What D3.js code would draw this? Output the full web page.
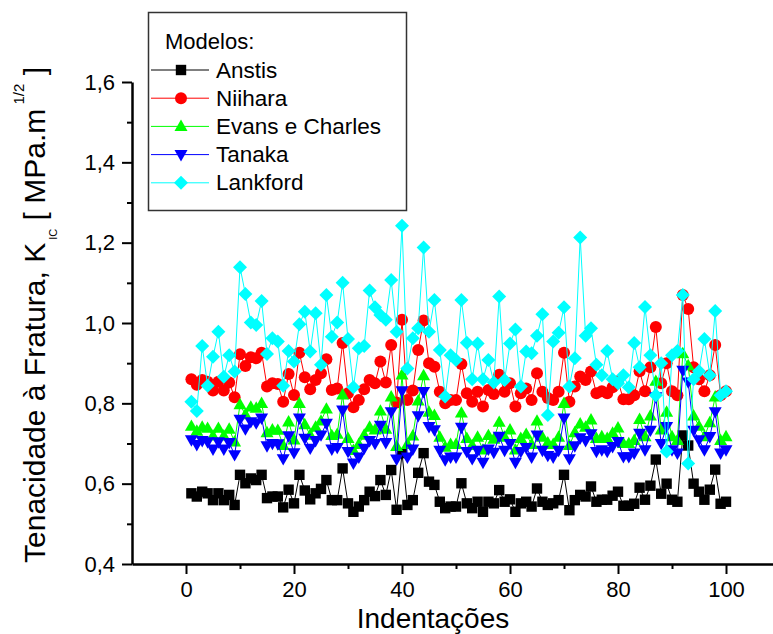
<!DOCTYPE html>
<html>
<head>
<meta charset="utf-8">
<script src="https://cdn.jsdelivr.net/npm/d3@7"></script>
<style>
  body { margin: 0; background: #fff; }
  svg { display: block; font-family: Arial, "Liberation Sans", sans-serif; }
</style>
</head>
<body>
<div id="chart"></div>
<script>
const width = 773;
const height = 634;

// indentation number (x) for every series
const indentacoes = d3.range(1, 101);

const anstis = [
  0.576, 0.568, 0.580, 0.576, 0.559, 0.576, 0.559, 0.572, 0.547, 0.622,
  0.601, 0.613, 0.609, 0.622, 0.564, 0.568, 0.568, 0.541, 0.585, 0.551,
  0.622, 0.583, 0.561, 0.576, 0.587, 0.609, 0.559, 0.559, 0.638, 0.551,
  0.530, 0.543, 0.559, 0.580, 0.569, 0.609, 0.572, 0.634, 0.535, 0.676,
  0.547, 0.559, 0.627, 0.676, 0.605, 0.597, 0.555, 0.539, 0.543, 0.543,
  0.601, 0.551, 0.539, 0.555, 0.530, 0.555, 0.551, 0.584, 0.555, 0.561,
  0.530, 0.551, 0.555, 0.543, 0.588, 0.555, 0.547, 0.551, 0.559, 0.622,
  0.534, 0.559, 0.572, 0.568, 0.593, 0.555, 0.560, 0.560, 0.570, 0.580,
  0.545, 0.545, 0.550, 0.590, 0.560, 0.595, 0.660, 0.575, 0.600, 0.560,
  0.555, 0.720, 0.695, 0.600, 0.580, 0.560, 0.585, 0.635, 0.550, 0.555
];

const niihara = [
  0.860, 0.846, 0.858, 0.854, 0.832, 0.854, 0.832, 0.852, 0.815, 0.922,
  0.893, 0.915, 0.912, 0.926, 0.842, 0.850, 0.848, 0.804, 0.873, 0.821,
  0.926, 0.865, 0.835, 0.858, 0.875, 0.910, 0.833, 0.837, 0.950, 0.825,
  0.790, 0.808, 0.835, 0.858, 0.850, 0.904, 0.852, 0.945, 0.802, 1.008,
  0.808, 0.832, 0.933, 1.006, 0.900, 0.891, 0.829, 0.800, 0.808, 0.808,
  0.898, 0.825, 0.804, 0.829, 0.792, 0.833, 0.823, 0.871, 0.829, 0.850,
  0.792, 0.825, 0.837, 0.808, 0.875, 0.829, 0.813, 0.808, 0.829, 0.926,
  0.804, 0.842, 0.867, 0.858, 0.879, 0.825, 0.830, 0.825, 0.840, 0.855,
  0.810, 0.810, 0.820, 0.880, 0.830, 0.890, 0.990, 0.850, 0.900, 0.830,
  0.820, 1.070, 1.035, 0.890, 0.860, 0.830, 0.870, 0.945, 0.820, 0.830
];

const evansCharles = [
  0.743, 0.731, 0.741, 0.738, 0.719, 0.738, 0.719, 0.736, 0.704, 0.797,
  0.772, 0.791, 0.788, 0.800, 0.727, 0.734, 0.733, 0.695, 0.754, 0.709,
  0.800, 0.747, 0.721, 0.741, 0.756, 0.786, 0.720, 0.723, 0.821, 0.713,
  0.683, 0.698, 0.721, 0.741, 0.734, 0.781, 0.736, 0.816, 0.693, 0.871,
  0.698, 0.719, 0.806, 0.869, 0.778, 0.770, 0.716, 0.691, 0.698, 0.698,
  0.776, 0.713, 0.695, 0.716, 0.684, 0.720, 0.711, 0.753, 0.716, 0.734,
  0.684, 0.713, 0.723, 0.698, 0.756, 0.716, 0.702, 0.698, 0.716, 0.800,
  0.695, 0.727, 0.749, 0.741, 0.759, 0.713, 0.717, 0.713, 0.726, 0.739,
  0.700, 0.700, 0.708, 0.760, 0.717, 0.769, 0.855, 0.734, 0.778, 0.717,
  0.708, 0.924, 0.894, 0.769, 0.743, 0.717, 0.752, 0.816, 0.708, 0.717
];

const tanaka = [
  0.709, 0.697, 0.707, 0.704, 0.686, 0.704, 0.686, 0.702, 0.672, 0.760,
  0.736, 0.754, 0.751, 0.763, 0.694, 0.700, 0.699, 0.662, 0.719, 0.677,
  0.763, 0.713, 0.688, 0.707, 0.721, 0.750, 0.686, 0.690, 0.783, 0.680,
  0.651, 0.666, 0.688, 0.707, 0.700, 0.745, 0.702, 0.779, 0.661, 0.831,
  0.666, 0.686, 0.769, 0.829, 0.742, 0.734, 0.683, 0.659, 0.666, 0.666,
  0.740, 0.680, 0.662, 0.683, 0.653, 0.686, 0.678, 0.718, 0.683, 0.700,
  0.653, 0.680, 0.690, 0.666, 0.721, 0.683, 0.670, 0.666, 0.683, 0.763,
  0.662, 0.694, 0.714, 0.707, 0.724, 0.680, 0.684, 0.680, 0.692, 0.705,
  0.667, 0.667, 0.676, 0.725, 0.684, 0.733, 0.816, 0.700, 0.742, 0.684,
  0.676, 0.882, 0.853, 0.733, 0.709, 0.684, 0.717, 0.779, 0.676, 0.684
];

const lankford = [
  0.804, 0.781, 0.943, 0.844, 0.916, 0.978, 0.866, 0.920, 0.879, 1.139,
  1.072, 1.001, 0.995, 1.055, 0.923, 0.962, 0.954, 0.844, 0.930, 0.904,
  0.997, 1.028, 0.929, 1.024, 0.896, 1.070, 0.966, 1.001, 1.100, 0.960,
  0.840, 0.937, 0.943, 1.081, 1.039, 1.020, 1.008, 1.107, 0.978, 1.242,
  0.887, 0.962, 0.987, 1.188, 0.978, 1.057, 0.933, 0.817, 0.920, 0.908,
  1.057, 0.951, 0.860, 0.949, 0.860, 0.908, 0.852, 1.066, 0.858, 0.949,
  0.984, 0.842, 0.929, 0.925, 0.968, 1.022, 0.771, 0.954, 0.976, 1.039,
  0.842, 0.912, 1.213, 0.968, 0.987, 0.896, 0.870, 0.930, 0.860, 0.850,
  0.870, 0.840, 0.950, 0.890, 1.040, 0.920, 0.820, 0.900, 0.680, 0.920,
  0.930, 1.070, 0.650, 0.860, 0.880, 0.960, 0.870, 1.030, 0.820, 0.830
];

const seriesNames = ["Anstis", "Niihara", "Evans e Charles", "Tanaka", "Lankford"];
const seriesValues = [anstis, niihara, evansCharles, tanaka, lankford];
const seriesColors = ["#000000", "#ff0000", "#00ff00", "#0000ff", "#00ffff"];
const seriesSymbols = ["square", "circle", "triangleUp", "triangleDown", "diamond"];

const xMajorTicks = [0, 20, 40, 60, 80, 100];
const xMinorTicks = [10, 30, 50, 70, 90];
const yMajorTicks = [0.4, 0.6, 0.8, 1.0, 1.2, 1.4, 1.6];
const yMinorTicks = [0.5, 0.7, 0.9, 1.1, 1.3, 1.5];

const svg = d3.select("#chart")
  .append("svg")
  .attr("width", width)
  .attr("height", height);

const x = d3.scaleLinear().domain([-10, 110]).range([132, 780]);
const y = d3.scaleLinear().domain([0.4, 1.6]).range([564, 82]);

function symbolPath(type) {
  if (type === "square") return "M-5.2,-5.2h10.4v10.4h-10.4z";
  if (type === "circle") return "M-6,0a6,6 0 1,0 12,0a6,6 0 1,0 -12,0z";
  if (type === "triangleUp") return "M0,-6.8L6.5,4.6L-6.5,4.6z";
  if (type === "triangleDown") return "M0,6.8L6.5,-4.6L-6.5,-4.6z";
  return "M0,-7L7,0L0,7L-7,0z";
}

// axes
const xAxis = svg.append("g")
  .attr("transform", `translate(0, ${y(0.4)})`)
  .call(d3.axisBottom(x).tickValues(xMajorTicks).tickSize(10).tickSizeOuter(0).tickPadding(7));
svg.append("g")
  .attr("transform", `translate(0, ${y(0.4)})`)
  .call(d3.axisBottom(x).tickValues(xMinorTicks).tickSize(5).tickFormat(""))
  .call(g => g.select(".domain").remove());

const yAxis = svg.append("g")
  .attr("transform", `translate(${x(-10)}, 0)`)
  .call(d3.axisLeft(y).tickValues(yMajorTicks).tickSize(10).tickSizeOuter(0).tickPadding(7)
    .tickFormat(d => d3.format(".1f")(d).replace(".", ",")));
svg.append("g")
  .attr("transform", `translate(${x(-10)}, 0)`)
  .call(d3.axisLeft(y).tickValues(yMinorTicks).tickSize(5).tickFormat(""))
  .call(g => g.select(".domain").remove());

svg.selectAll(".domain").attr("stroke", "#000").attr("stroke-width", 2.5);
svg.selectAll(".tick line").attr("stroke", "#000").attr("stroke-width", 2);
svg.selectAll(".tick text")
  .attr("font-family", "Arial, 'Liberation Sans', sans-serif")
  .attr("font-size", 22)
  .attr("fill", "#000");
xAxis.attr("font-family", null);
yAxis.attr("font-family", null);

// axis titles
svg.append("text")
  .attr("x", 433)
  .attr("y", 628)
  .attr("text-anchor", "middle")
  .attr("font-size", 28)
  .text("Indentações");

const yTitle = svg.append("text")
  .attr("transform", "translate(45, 315) rotate(-90)")
  .attr("text-anchor", "middle")
  .attr("font-size", 30);
yTitle.append("tspan").text("Tenacidade à Fratura, K");
yTitle.append("tspan").attr("font-size", 11).attr("dy", 12).text(" IC");
yTitle.append("tspan").attr("dy", -12).text("  [ MPa.m");
yTitle.append("tspan").attr("font-size", 15).attr("dy", -21).text(" 1/2");
yTitle.append("tspan").attr("dy", 21).text("  ]");

// series
const line = d3.line()
  .x((d, i) => x(indentacoes[i]))
  .y(d => y(d));

seriesValues.forEach((values, k) => {
  const g = svg.append("g").attr("class", "series");
  g.append("path")
    .attr("d", line(values))
    .attr("fill", "none")
    .attr("stroke", seriesColors[k])
    .attr("stroke-width", 1);
  g.selectAll("path.marker")
    .data(values)
    .join("path")
    .attr("class", "marker")
    .attr("transform", (d, i) => `translate(${x(indentacoes[i])}, ${y(d)})`)
    .attr("d", symbolPath(seriesSymbols[k]))
    .attr("fill", seriesColors[k]);
});

// legend
const legend = svg.append("g");
legend.append("rect")
  .attr("x", 148.5)
  .attr("y", 12.5)
  .attr("width", 258)
  .attr("height", 198)
  .attr("fill", "#fff")
  .attr("stroke", "#333")
  .attr("stroke-width", 1.5);
legend.append("text")
  .attr("x", 165)
  .attr("y", 49)
  .attr("font-size", 22)
  .text("Modelos:");

const items = legend.selectAll(".item")
  .data(seriesNames)
  .join("g")
  .attr("class", "item")
  .attr("transform", (d, i) => `translate(0, ${70 + i * 28.2})`);
items.append("line")
  .attr("x1", 151)
  .attr("x2", 209)
  .attr("stroke", (d, i) => seriesColors[i])
  .attr("stroke-width", 1);
items.append("path")
  .attr("transform", "translate(181, 0)")
  .attr("d", (d, i) => symbolPath(seriesSymbols[i]))
  .attr("fill", (d, i) => seriesColors[i]);
items.append("text")
  .attr("x", 216)
  .attr("y", 7.5)
  .attr("font-size", 22.5)
  .text(d => d);
</script>
</body>
</html>
